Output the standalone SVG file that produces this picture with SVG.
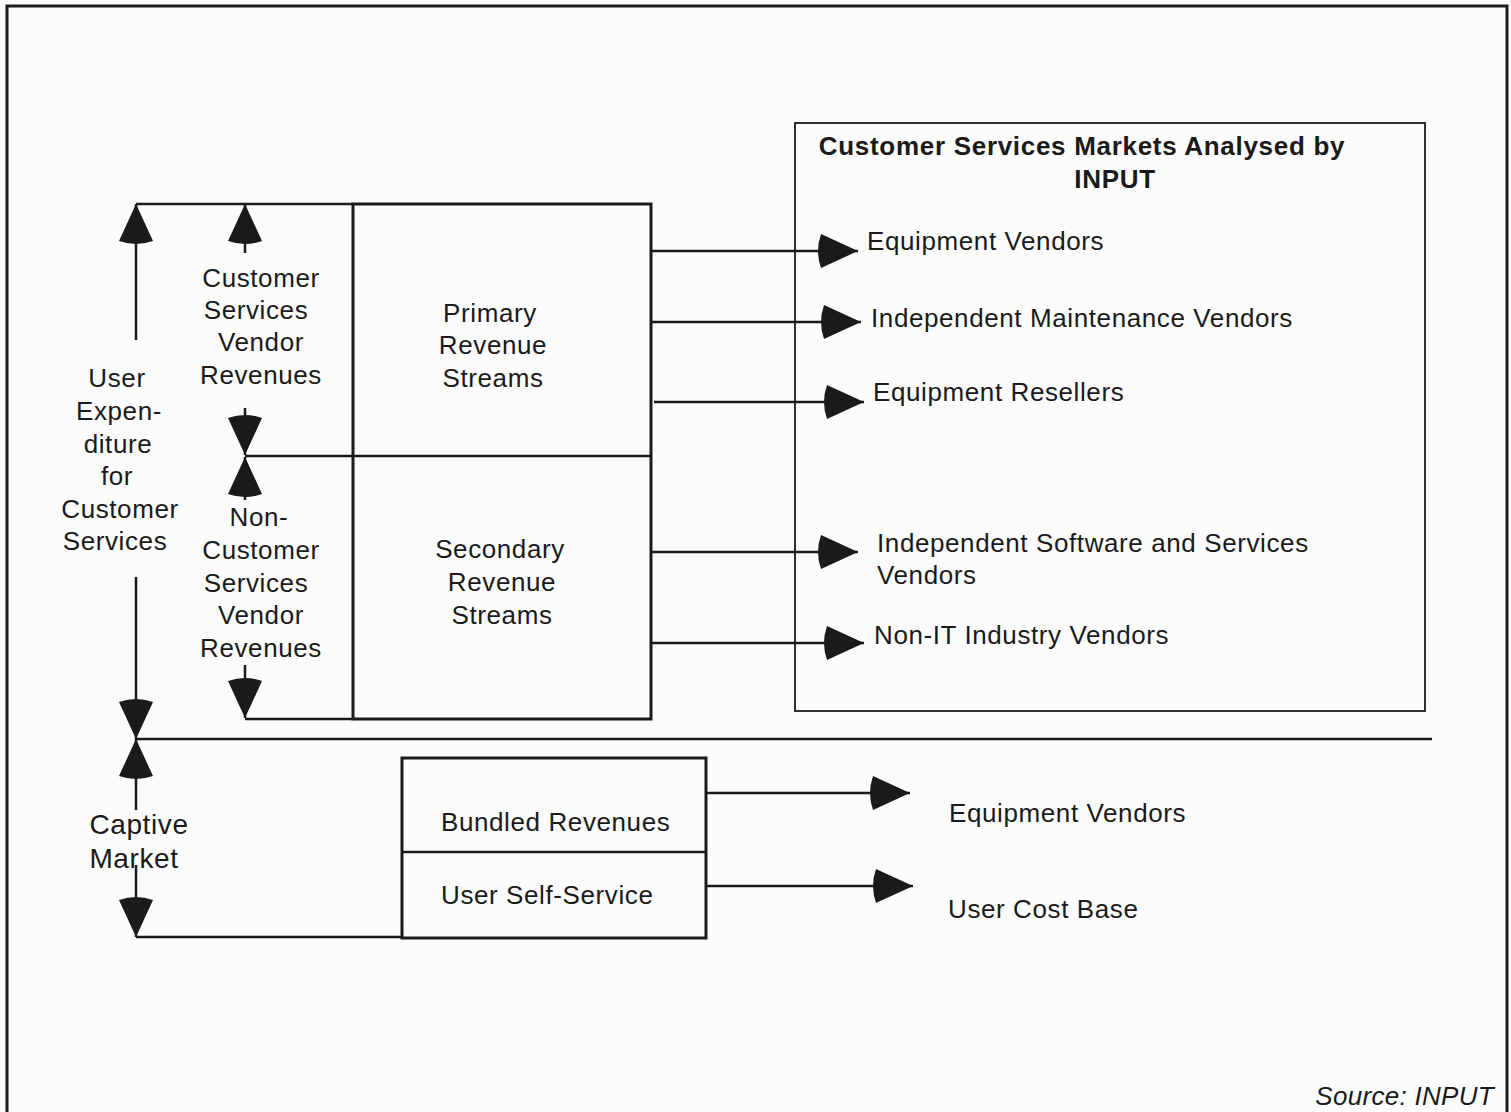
<svg xmlns="http://www.w3.org/2000/svg" width="1511" height="1112" viewBox="0 0 1511 1112">
<style>
.t{font-family:"Liberation Sans",Arial,sans-serif;font-size:26px;fill:#1a1a1a;letter-spacing:0.6px}
.c{text-anchor:middle}
.b{font-weight:bold;font-size:26px;letter-spacing:0.7px}
.box{fill:none;stroke:#1a1a1a;stroke-width:3}
.thin{fill:none;stroke:#1a1a1a;stroke-width:1.8}
.ln{fill:none;stroke:#1a1a1a;stroke-width:2.5}
.ar{fill:none;stroke:#1a1a1a;stroke-width:2.5;marker-end:url(#ah)}
</style>
<defs>
<marker id="ah" markerUnits="userSpaceOnUse" markerWidth="50" markerHeight="40" viewBox="-45 -20 50 40" refX="0" refY="0" orient="auto" overflow="visible">
<path d="M0,0 L-37,-17 Q-43,0 -37,17 Z" fill="#1a1a1a"/>
</marker>
</defs>
<rect width="1511" height="1112" fill="#fcfcfc"/>
<path d="M7,1112 V6 H1507 V1112" fill="none" stroke="#1a1a1a" stroke-width="3"/>

<g id="markets-box">
<rect x="795" y="123" width="630" height="588" class="thin"/>
<text class="t b" x="1082" y="155" text-anchor="middle">Customer Services Markets Analysed by</text>
<text class="t b" x="1115" y="188" text-anchor="middle">INPUT</text>
</g>

<g id="revenue-box">
<rect x="353" y="204" width="298" height="515" class="box"/>
<line x1="353" y1="456" x2="651" y2="456" class="ln"/>
</g>
<g id="primary">
<text class="t c" x="490" y="322">Primary</text>
<text class="t c" x="493" y="354">Revenue</text>
<text class="t c" x="493" y="387">Streams</text>
</g>
<g id="secondary">
<text class="t c" x="500" y="558">Secondary</text>
<text class="t c" x="502" y="591">Revenue</text>
<text class="t c" x="502" y="624">Streams</text>
</g>

<g id="captive-box">
<rect x="402" y="758" width="304" height="180" class="box"/>
<line x1="402" y1="852" x2="706" y2="852" class="ln"/>
</g>
<g id="bundled">
<text class="t" x="441" y="831">Bundled Revenues</text>
</g>
<g id="self-service">
<text class="t" x="441" y="904">User Self-Service</text>
</g>

<g id="user-expenditure">
<text class="t c" x="117" y="387">User</text>
<text class="t c" x="119" y="420">Expen-</text>
<text class="t c" x="118" y="453">diture</text>
<text class="t c" x="117" y="485">for</text>
<text class="t c" x="120" y="518">Customer</text>
<text class="t c" x="115" y="550">Services</text>
</g>
<g id="cs-vendor-revenues">
<text class="t c" x="261" y="287">Customer</text>
<text class="t c" x="256" y="319">Services</text>
<text class="t c" x="261" y="351">Vendor</text>
<text class="t c" x="261" y="384">Revenues</text>
</g>
<g id="non-cs-vendor-revenues">
<text class="t c" x="259" y="526">Non-</text>
<text class="t c" x="261" y="559">Customer</text>
<text class="t c" x="256" y="592">Services</text>
<text class="t c" x="261" y="624">Vendor</text>
<text class="t c" x="261" y="657">Revenues</text>
</g>
<g id="captive-market">
<text class="t c" x="139" y="834" style="font-size:28px">Captive</text>
<text class="t c" x="134" y="868" style="font-size:28px">Market</text>
</g>

<g id="equipment-vendors"><text class="t" x="867" y="250">Equipment Vendors</text></g>
<g id="independent-maintenance"><text class="t" x="871" y="327">Independent Maintenance Vendors</text></g>
<g id="equipment-resellers"><text class="t" x="873" y="401">Equipment Resellers</text></g>
<g id="independent-software">
<text class="t" x="877" y="552">Independent Software and Services</text>
<text class="t" x="877" y="584">Vendors</text>
</g>
<g id="non-it"><text class="t" x="874" y="644">Non-IT Industry Vendors</text></g>
<g id="equipment-vendors-2"><text class="t" x="949" y="822">Equipment Vendors</text></g>
<g id="user-cost-base"><text class="t" x="948" y="918">User Cost Base</text></g>

<text class="t" x="1494" y="1105" text-anchor="end" font-style="italic" style="letter-spacing:0.3px">Source: INPUT</text>

<g id="connectors">
<line x1="136" y1="204" x2="353" y2="204" class="ln"/>
<line x1="245" y1="456" x2="353" y2="456" class="ln"/>
<line x1="245" y1="719" x2="353" y2="719" class="ln"/>
<line x1="136" y1="739" x2="1432" y2="739" class="ln"/>
<line x1="136" y1="937" x2="402" y2="937" class="ln"/>

<line x1="136" y1="340" x2="136" y2="204" class="ar"/>
<line x1="136" y1="577" x2="136" y2="739" class="ar"/>
<line x1="136" y1="810" x2="136" y2="739" class="ar"/>
<line x1="136" y1="865" x2="136" y2="937" class="ar"/>

<line x1="245" y1="253" x2="245" y2="204" class="ar"/>
<line x1="245" y1="408" x2="245" y2="455" class="ar"/>
<line x1="245" y1="500" x2="245" y2="457" class="ar"/>
<line x1="245" y1="665" x2="245" y2="718" class="ar"/>

<line x1="651" y1="251" x2="858" y2="251" class="ar"/>
<line x1="651" y1="322" x2="861" y2="322" class="ar"/>
<line x1="654" y1="402" x2="864" y2="402" class="ar"/>
<line x1="651" y1="552" x2="858" y2="552" class="ar"/>
<line x1="651" y1="643" x2="864" y2="643" class="ar"/>

<line x1="706" y1="793" x2="910" y2="793" class="ar"/>
<line x1="706" y1="886" x2="913" y2="886" class="ar"/>
</g>
</svg>
